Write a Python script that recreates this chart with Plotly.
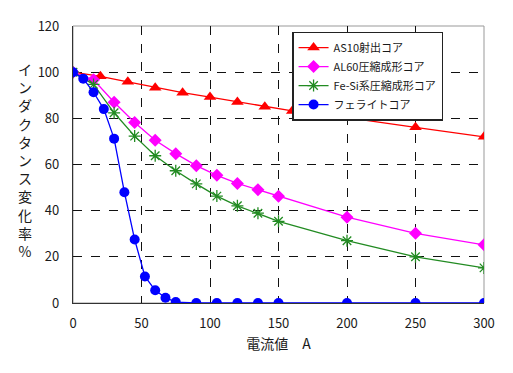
import plotly.graph_objects as go

as10_x = [0, 20, 40, 60, 80, 100, 120, 140, 160, 180, 200, 250, 300]
as10_y = [100, 98.2, 95.8, 93.3, 91.1, 89.2, 87.1, 85.0, 83.2, 81.7, 80.3, 76.1, 72.0]

al60_x = [0, 15, 30, 45, 60, 75, 90, 105, 120, 135, 150, 200, 250, 300]
al60_y = [100, 96.7, 87.0, 78.2, 70.5, 64.7, 59.5, 55.3, 51.8, 49.1, 46.2, 37.2, 30.2, 25.2]

fesi_x = [0, 15, 30, 45, 60, 75, 90, 105, 120, 135, 150, 200, 250, 300]
fesi_y = [100, 94.7, 82.4, 72.3, 63.8, 57.3, 51.6, 46.3, 42.1, 38.9, 35.4, 27.0, 20.0, 15.2]

fer_x = [0, 7.5, 15, 22.5, 30, 37.5, 45, 52.5, 60, 67.5, 75, 90, 105, 120, 135, 150, 200, 250, 300]
fer_y = [100, 97.2, 91.3, 84.0, 71.2, 48.0, 27.5, 11.5, 5.5, 2.3, 0.4, 0, 0, 0, 0, 0, 0, 0, 0]

names = ["AS10射出コア", "AL60圧縮成形コア", "Fe-Si系圧縮成形コア", "フェライトコア"]
x_ticks = [0, 50, 100, 150, 200, 250, 300]
y_ticks = [0, 20, 40, 60, 80, 100, 120]
x_title = "電流値　A"
y_title = "インダクタンス変化率%"

FONT = "Noto Sans CJK JP"
TXT = "#1a1a1a"

fig = go.Figure()
fig.add_trace(go.Scatter(x=as10_x, y=as10_y, name=names[0], mode="lines+markers",
                         line=dict(color="#FF0000", width=1.3),
                         marker=dict(symbol="triangle-up", size=11, color="#FF0000")))
fig.add_trace(go.Scatter(x=al60_x, y=al60_y, name=names[1], mode="lines+markers",
                         line=dict(color="#FF00FF", width=1.3),
                         marker=dict(symbol="diamond", size=10, color="#FF00FF")))
fig.add_trace(go.Scatter(x=fesi_x, y=fesi_y, name=names[2], mode="lines+markers",
                         line=dict(color="#228B22", width=1.3),
                         marker=dict(symbol="asterisk-open", size=10,
                                     line=dict(color="#228B22", width=1.3))))
fig.add_trace(go.Scatter(x=fer_x, y=fer_y, name=names[3], mode="lines+markers",
                         line=dict(color="#0000FF", width=1.3),
                         marker=dict(symbol="circle", size=10, color="#0000FF")))

fig.update_layout(
    width=513, height=373,
    margin=dict(l=65, r=37, t=8, b=78),
    paper_bgcolor="white", plot_bgcolor="white",
    font=dict(family=FONT, size=13, color=TXT),
    showlegend=True,
    legend=dict(x=0.533, y=0.98, xanchor="left", yanchor="top",
                bgcolor="white", bordercolor="#222", borderwidth=1.5,
                font=dict(family=FONT, size=11, color=TXT),
                tracegroupgap=0),
    xaxis=dict(range=[0, 300], tickvals=x_ticks, ticktext=[str(v) for v in x_ticks],
               showgrid=True, gridcolor="#111", griddash="dash", gridwidth=1,
               zeroline=False, showline=True, linecolor="#333", linewidth=1.2,
               ticks="", ticklabelstandoff=8, ticklabeloverflow="allow",
               title=dict(text=x_title, font=dict(family=FONT, size=14, color=TXT), standoff=8)),
    yaxis=dict(range=[0, 120], tickvals=y_ticks, ticktext=[str(v) for v in y_ticks],
               showgrid=True, gridcolor="#111", griddash="dash", gridwidth=1,
               zeroline=False, showline=True, linecolor="#333", linewidth=1.2,
               ticks="", ticklabelstandoff=10, ticklabeloverflow="allow"),
    shapes=[dict(type="rect", xref="paper", yref="paper", x0=0, x1=1, y0=0, y1=1,
                 line=dict(color="#999", width=1), layer="below")],
    annotations=[dict(text="<br>".join(list(y_title)), xref="paper", yref="paper",
                      x=-0.117, y=0.516, xanchor="center", yanchor="middle",
                      showarrow=False,
                      font=dict(family=FONT, size=14, color=TXT))],
)

fig.write_html("out.html")
